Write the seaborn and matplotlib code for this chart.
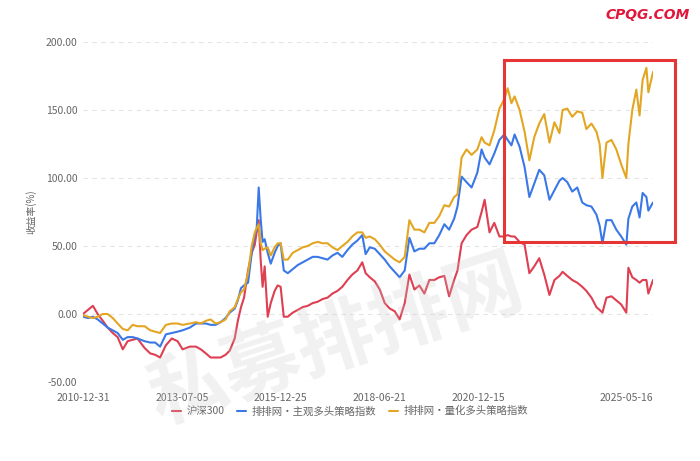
import matplotlib
matplotlib.use('Agg')
import matplotlib.pyplot as plt
from matplotlib.patches import Rectangle
import pandas as pd
import seaborn as sns

# Data (cumulative return, %)
dates = [
    '2010-12-31', '2011-02-15', '2011-04-01', '2011-05-15', '2011-07-01', '2011-08-15', '2011-10-01', '2011-11-15',
    '2012-01-01', '2012-02-15', '2012-04-01', '2012-05-15', '2012-07-20', '2012-09-10', '2012-10-25', '2012-12-10',
    '2013-02-01', '2013-03-28', '2013-05-20', '2013-07-05', '2013-09-10', '2013-11-05', '2013-12-20',
    '2014-02-05', '2014-03-20', '2014-05-05', '2014-06-20', '2014-08-05', '2014-09-12', '2014-10-28', '2014-11-26', '2014-12-25',
    '2015-01-22', '2015-02-28', '2015-04-03', '2015-05-01', '2015-05-18', '2015-06-06', '2015-06-24', '2015-07-12',
    '2015-07-31', '2015-08-28', '2015-09-25', '2015-10-31', '2015-11-28', '2015-12-25',
    '2016-01-23', '2016-02-29', '2016-04-15', '2016-05-31', '2016-07-15', '2016-08-31', '2016-10-15', '2016-11-30',
    '2017-01-15', '2017-03-01', '2017-04-15', '2017-06-01', '2017-07-15', '2017-09-01', '2017-10-15', '2017-12-01',
    '2018-01-15', '2018-02-15', '2018-03-25', '2018-05-10', '2018-06-25', '2018-08-10', '2018-09-25', '2018-11-10', '2018-12-25',
    '2019-02-10', '2019-03-25', '2019-05-10', '2019-06-25', '2019-08-10', '2019-09-25', '2019-11-10', '2019-12-25',
    '2020-02-10', '2020-03-25', '2020-05-10', '2020-06-10', '2020-07-18', '2020-09-01', '2020-10-18', '2020-12-10',
    '2021-01-18', '2021-02-15', '2021-04-01', '2021-05-15', '2021-07-01', '2021-08-15', '2021-09-15', '2021-10-20', '2021-11-18',
    '2022-01-03', '2022-02-18', '2022-04-03', '2022-05-18', '2022-07-03', '2022-08-18', '2022-10-05', '2022-11-20',
    '2023-01-05', '2023-02-03', '2023-03-18', '2023-05-03', '2023-06-18', '2023-08-03', '2023-09-10', '2023-10-27', '2023-12-12',
    '2024-01-10', '2024-02-05', '2024-03-13', '2024-04-28', '2024-06-12', '2024-07-27', '2024-09-12', '2024-10-01', '2024-11-06', '2024-12-13',
    '2025-01-12', '2025-02-09', '2025-03-16', '2025-04-03', '2025-05-16',
]

hs300 = [
    0, 3, 6, 0, -5, -10, -14, -17,
    -26, -20, -19, -18, -25, -29, -30, -32,
    -23, -18, -20, -26, -24, -24, -26,
    -29, -32, -32, -32, -30, -27, -18, -5, 5,
    12, 32, 45, 51, 60, 69, 40, 20, 35, -2, 8, 17, 21, 20,
    -2, -2, 1, 3, 5, 6, 8, 9,
    11, 12, 15, 17, 20, 25, 29, 32,
    38, 30, 27, 24, 18, 8, 4, 2, -4,
    8, 29, 18, 21, 15, 25, 25, 27,
    28, 13, 25, 32, 52, 58, 62, 64,
    75, 84, 60, 67, 57, 57, 58, 57, 57,
    53, 51, 30, 35, 41, 29, 14, 25,
    28, 31, 28, 25, 23, 20, 17, 12, 5,
    3, 1, 12, 13, 10, 7, 1, 34, 27, 25,
    23, 25, 25, 15, 25,
]

subjective = [
    -2, -3, -2, -4, -7, -10, -12, -14,
    -19, -17, -17, -18, -20, -21, -21, -24,
    -15, -14, -13, -12, -10, -7, -7,
    -7, -8, -8, -6, -3, 1, 4, 10, 19,
    21, 23, 45, 58, 62, 93, 70, 53, 55, 45, 37, 45, 50, 52,
    32, 30, 33, 36, 38, 40, 42, 42,
    41, 40, 43, 45, 42, 47, 51, 54,
    58, 44, 49, 48, 44, 40, 35, 31, 27,
    32, 56, 46, 48, 48, 52, 52, 58,
    66, 62, 70, 79, 101, 97, 93, 104,
    121, 115, 110, 118, 128, 132, 128, 124, 132,
    123, 108, 86, 96, 106, 102, 84, 91,
    98, 100, 97, 90, 93, 82, 80, 79, 73,
    65, 52, 69, 69, 62, 57, 51, 70, 79, 82,
    71, 89, 86, 76, 82,
]

quant = [
    -1, -2, -3, -2, 0, 0, -3, -7,
    -11, -12, -8, -9, -9, -12, -13, -14,
    -8, -7, -7, -8, -7, -6, -7,
    -5, -4, -7, -6, -4, 2, 5, 11, 16,
    18, 30, 50, 60, 63, 66, 52, 47, 48, 49, 43, 49, 52, 52,
    40, 40, 45, 47, 49, 50, 52, 53,
    52, 52, 49, 47, 50, 53, 57, 60,
    60, 56, 57, 55, 51, 46, 43, 40, 38,
    42, 69, 62, 62, 60, 67, 67, 72,
    80, 79, 86, 88, 115, 121, 117, 121,
    130, 126, 124, 135, 151, 158, 166, 155, 160,
    150, 134, 113, 130, 140, 147, 126, 141,
    133, 150, 151, 145, 149, 148, 136, 140, 134,
    125, 100, 126, 128, 121, 110, 100, 125, 150, 165,
    146, 172, 181, 163, 178,
]

series_names = ['沪深300', '排排网·主观多头策略指数', '排排网·量化多头策略指数']
line_colors = ['#de3f52', '#3b78e7', '#e3a623']
tick_dates = ['2010-12-31', '2013-07-05', '2015-12-25', '2018-06-21', '2020-12-15', '2025-05-16']
y_ticks = [-50, 0, 50, 100, 150, 200]

sns.set_theme(style='white')
plt.rcParams['font.family'] = ['Noto Sans CJK SC', 'DejaVu Sans']
plt.rcParams['axes.unicode_minus'] = False

df = pd.DataFrame({
    'date': pd.to_datetime(dates),
    series_names[0]: hs300,
    series_names[1]: subjective,
    series_names[2]: quant,
})
long_df = df.melt(id_vars='date', var_name='series', value_name='ret')

fig = plt.figure(figsize=(7, 4.61), dpi=100)
ax = fig.add_axes([0.1186, 0.1714, 0.8143, 0.7375])

sns.lineplot(data=long_df, x='date', y='ret', hue='series', hue_order=series_names,
             palette=line_colors, linewidth=1.5, ax=ax, zorder=2)

ax.set_xlim(pd.Timestamp(tick_dates[0]), pd.Timestamp(tick_dates[-1]))
ax.set_ylim(-50, 200)
ax.set_yticks(y_ticks)
ax.set_yticklabels([f'{v:.2f}' for v in y_ticks])
ax.set_xticks(pd.to_datetime(tick_dates))
ax.set_xticklabels(tick_dates)
ax.get_xticklabels()[-1].set_ha('right')

ax.tick_params(axis='both', length=0, labelsize=7.5, labelcolor='#666666')
ax.tick_params(axis='y', pad=4)
ax.tick_params(axis='x', pad=8)
ax.set_xlabel('')
ax.set_ylabel('收益率(%)', fontsize=7, color='#666666', labelpad=7)
ax.yaxis.grid(True, linestyle=(0, (4, 4)), color='#e4e4e4', linewidth=0.8)
ax.xaxis.grid(False)
for s in ax.spines.values():
    s.set_visible(False)

ax.legend(loc='center', bbox_to_anchor=(0.5, 0.108), bbox_transform=fig.transFigure,
          ncol=3, frameon=False, fontsize=7.5, labelcolor='#666666',
          handlelength=0.9, handletextpad=0.5, columnspacing=1.2)

# highlight box
fig.patches.append(Rectangle((504 / 700, 1 - 242 / 461), 171 / 700, 182 / 461,
                             transform=fig.transFigure, fill=False,
                             edgecolor='#e53535', linewidth=2.2, zorder=5))

# watermark
fig.text(0.48, 0.26, '私募排排网', fontsize=56, fontweight='bold', color='#c8c8c8',
         alpha=0.25, rotation=18, ha='center', va='center', zorder=4)

fig.text(0.985, 0.968, 'CPQG.COM', fontsize=10, fontweight='bold', fontstyle='italic',
         color='#e0163a', ha='right', va='center', family=['DejaVu Sans'])

plt.savefig('out.png', dpi=100)
